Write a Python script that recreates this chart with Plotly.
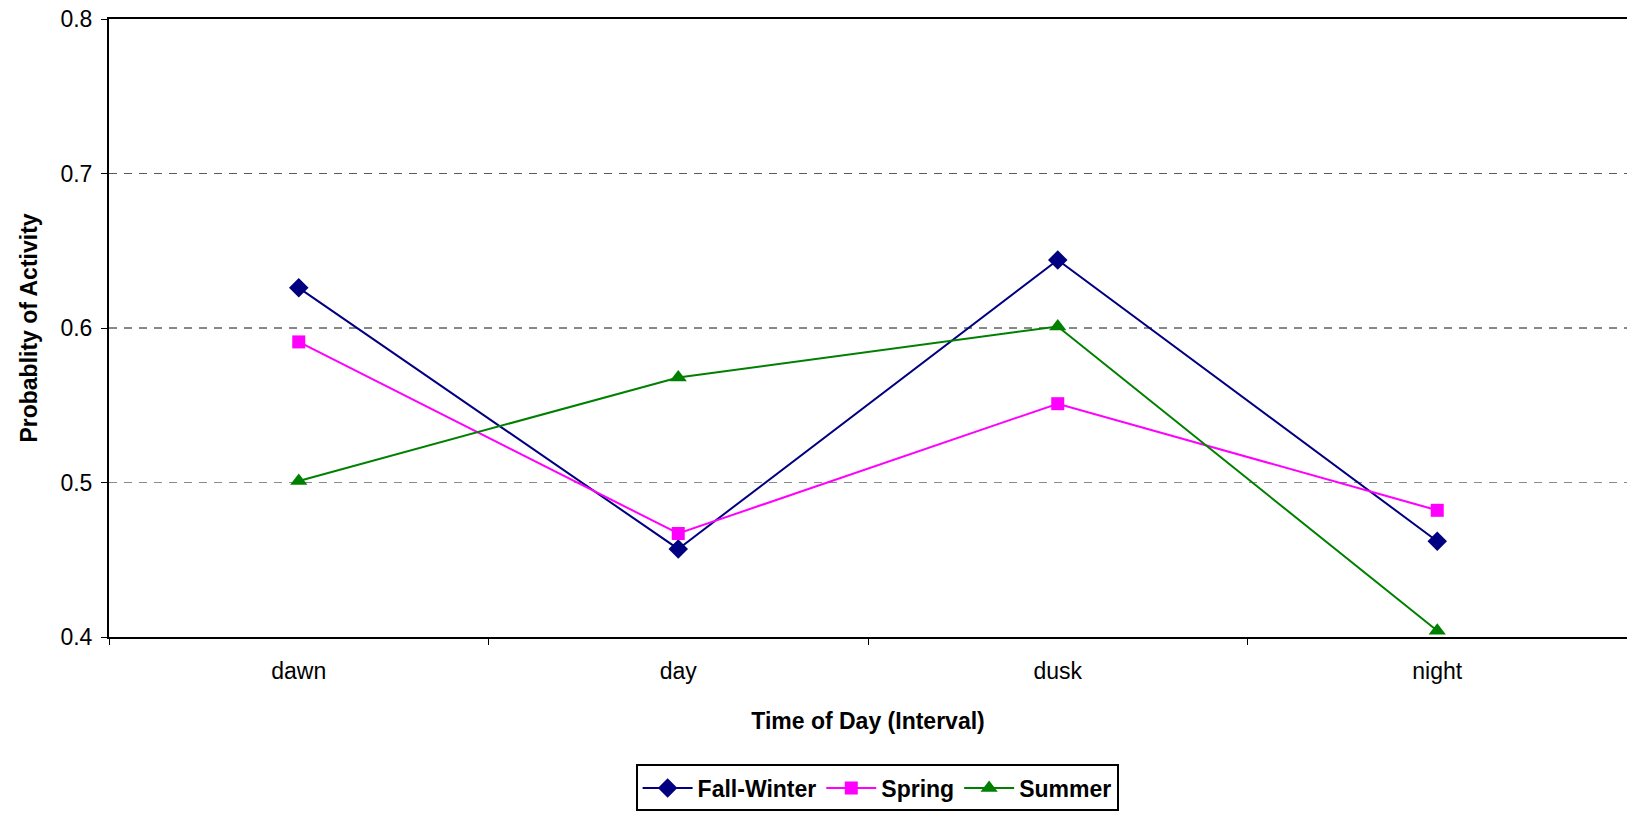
import plotly.graph_objects as go

# Activity probability by time-of-day interval, per season
categories = ["dawn", "day", "dusk", "night"]
fall_winter = [0.626, 0.457, 0.644, 0.462]
spring = [0.591, 0.467, 0.551, 0.482]
summer = [0.501, 0.568, 0.601, 0.404]
y_ticks = [0.4, 0.5, 0.6, 0.7, 0.8]
grid_levels = [0.5, 0.6, 0.7]

FONT = "Liberation Sans, Arial, sans-serif"
GRID_COLORS = {0.5: "#8a8a8a", 0.6: "#111111", 0.7: "#5a5a5a"}

fig = go.Figure()
fig.add_trace(go.Scatter(
    x=categories, y=fall_winter, name="Fall-Winter", mode="lines+markers",
    line=dict(color="#000080", width=2),
    marker=dict(symbol="diamond", size=15, color="#000080"),
    cliponaxis=False,
))
fig.add_trace(go.Scatter(
    x=categories, y=spring, name="Spring", mode="lines+markers",
    line=dict(color="#FF00FF", width=2),
    marker=dict(symbol="square", size=13, color="#FF00FF"),
    cliponaxis=False,
))
fig.add_trace(go.Scatter(
    x=categories, y=summer, name="Summer", mode="lines+markers",
    line=dict(color="#008000", width=2),
    marker=dict(symbol="triangle-up", size=15, color="#008000"),
    cliponaxis=False,
))

# dashed horizontal gridlines, drawn beneath the series
for level in grid_levels:
    fig.add_hline(y=level, layer="below",
                  line=dict(color=GRID_COLORS[level], width=1, dash="8px,7px"))

fig.update_layout(
    width=1627, height=815,
    margin=dict(l=109, r=0, t=19, b=178, autoexpand=False),
    paper_bgcolor="white", plot_bgcolor="white",
    font=dict(family=FONT, size=22, color="black"),
    showlegend=True,
    legend=dict(
        orientation="h", x=0.506, xanchor="center",
        yref="container", y=0.062, yanchor="top",
        bordercolor="black", borderwidth=2,
        font=dict(family=FONT, size=23, color="black", weight="bold"),
        itemwidth=50, tracegroupgap=0,
    ),
    xaxis=dict(
        type="category", range=[-0.5, 3.5],
        showline=True, linecolor="black", linewidth=2, mirror=True,
        ticks="outside", tickson="boundaries", ticklen=6, tickcolor="black", tickwidth=1,
        showgrid=False, zeroline=False,
        tickfont=dict(family=FONT, size=23),
        ticklabelstandoff=12,
        title=dict(text="Time of Day (Interval)", standoff=30,
                   font=dict(family=FONT, size=23, weight="bold")),
    ),
    yaxis=dict(
        range=[0.4, 0.8], tickvals=y_ticks, tickformat=".1f",
        showline=True, linecolor="black", linewidth=2,
        ticks="outside", ticklen=6, tickcolor="black", tickwidth=1,
        showgrid=False, zeroline=False,
        tickfont=dict(family=FONT, size=23),
        ticklabelstandoff=4,
        title=dict(text="Probablity of Activity", standoff=16,
                   font=dict(family=FONT, size=23, weight="bold")),
    ),
)

fig.write_html("out.html")
